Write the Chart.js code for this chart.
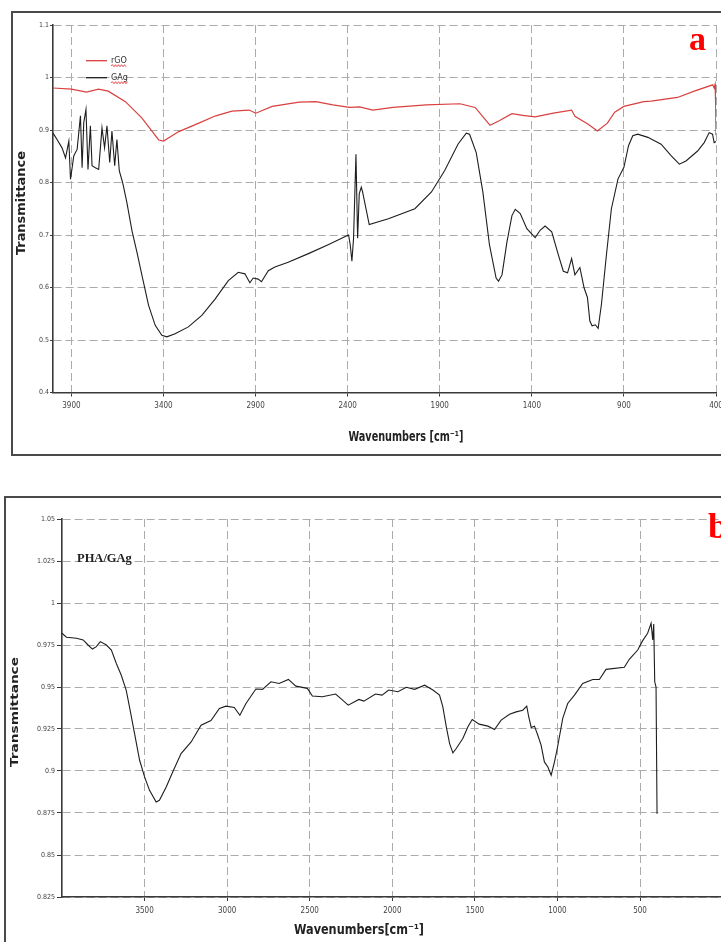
<!DOCTYPE html>
<html>
<head>
<meta charset="utf-8">
<script src="https://cdn.jsdelivr.net/npm/chart.js@4.4.1/dist/chart.umd.min.js"></script>
<style>
html, body { margin: 0; padding: 0; background: #fff; width: 721px; height: 942px; overflow: hidden; position: relative; }
.frame { position: absolute; border: 2px solid #4a4a4a; box-sizing: border-box; }
#frameA { left: 11px; top: 11px; width: 780px; height: 445px; }
#frameB { left: 4px; top: 496px; width: 780px; height: 480px; }
canvas { position: absolute; }
#chartA { left: 14px; top: 14px; }
#chartB { left: 7px; top: 499px; }
</style>
</head>
<body>
<div class="frame" id="frameA"></div>
<div class="frame" id="frameB"></div>
<canvas id="chartA" width="740" height="438"></canvas>
<canvas id="chartB" width="740" height="441"></canvas>
<script>
// panel a: rGO and GAg
const topXTicks = [3900, 3400, 2900, 2400, 1900, 1400, 900, 400];
const topYTicks = [0.4, 0.5, 0.6, 0.7, 0.8, 0.9, 1.0, 1.1];

const rgoWave = [4000, 3900, 3818, 3753, 3700, 3607, 3518, 3426, 3400, 3317, 3208, 3117, 3028, 2935, 2899, 2810, 2663, 2572, 2481, 2390,
    2335, 2263, 2154, 1972, 1790, 1708, 1665, 1627, 1580, 1508, 1450, 1382, 1283, 1184, 1166, 1094, 1044, 990, 950, 900,
    792, 752, 609, 518, 418, 410, 405, 402, 400];
const rgoT = [0.980, 0.978, 0.972, 0.978, 0.974, 0.954, 0.923, 0.881, 0.879, 0.897, 0.913, 0.927, 0.936, 0.938, 0.932, 0.945, 0.953, 0.954, 0.948, 0.943,
    0.944, 0.938, 0.943, 0.948, 0.950, 0.943, 0.925, 0.909, 0.917, 0.931, 0.928, 0.925, 0.932, 0.938, 0.926, 0.911, 0.898, 0.913, 0.934, 0.945,
    0.954, 0.955, 0.962, 0.974, 0.986, 0.980, 0.987, 0.950, 0.890];

const gagWave = [4000, 3978, 3951, 3932, 3914, 3905, 3887, 3869, 3851, 3842, 3833, 3821, 3810, 3797, 3788, 3770, 3752, 3734, 3720, 3707,
    3692, 3680, 3665, 3653, 3640, 3622, 3599, 3571, 3544, 3517, 3481, 3445, 3409, 3382, 3337, 3265, 3192, 3120, 3048, 2994,
    2958, 2931, 2913, 2886, 2868, 2831, 2795, 2723, 2610, 2503, 2413, 2395, 2386, 2377, 2368, 2355, 2346, 2337, 2326, 2319,
    2283, 2179, 2035, 1945, 1873, 1801, 1756, 1738, 1702, 1666, 1630, 1594, 1581, 1562, 1535, 1508, 1490, 1463, 1427, 1382,
    1355, 1328, 1292, 1256, 1229, 1206, 1184, 1166, 1139, 1116, 1098, 1085, 1073, 1055, 1040, 1022, 995, 968, 932, 900,
    875, 852, 825, 770, 698, 644, 599, 563, 500, 464, 437, 419, 410, 400];
const gagT = [0.894, 0.882, 0.866, 0.847, 0.879, 0.806, 0.851, 0.863, 0.927, 0.828, 0.914, 0.939, 0.825, 0.908, 0.832, 0.828, 0.825, 0.904, 0.866, 0.908,
    0.838, 0.898, 0.832, 0.882, 0.822, 0.800, 0.762, 0.708, 0.667, 0.623, 0.566, 0.528, 0.509, 0.506, 0.512, 0.525, 0.547, 0.578, 0.613, 0.629,
    0.626, 0.609, 0.618, 0.616, 0.611, 0.632, 0.639, 0.648, 0.665, 0.682, 0.697, 0.700, 0.681, 0.650, 0.694, 0.854, 0.694, 0.779, 0.791, 0.782,
    0.720, 0.731, 0.750, 0.782, 0.823, 0.873, 0.894, 0.892, 0.857, 0.782, 0.681, 0.618, 0.612, 0.624, 0.687, 0.737, 0.749, 0.741, 0.712, 0.695,
    0.709, 0.717, 0.706, 0.662, 0.631, 0.628, 0.655, 0.624, 0.638, 0.599, 0.581, 0.536, 0.527, 0.529, 0.522, 0.568, 0.662, 0.750, 0.807, 0.829,
    0.870, 0.889, 0.892, 0.886, 0.873, 0.851, 0.835, 0.841, 0.860, 0.876, 0.895, 0.892, 0.876, 0.878];

// panel b: PHA/GAg
const bottomXTicks = [3500, 3000, 2500, 2000, 1500, 1000, 500];
const bottomYTicks = [0.825, 0.85, 0.875, 0.9, 0.925, 0.95, 0.975, 1.0, 1.025, 1.05];

const phaWave = [4000, 3973, 3912, 3872, 3842, 3816, 3792, 3768, 3731, 3701, 3671, 3641, 3611, 3587, 3560, 3530, 3500, 3470, 3430, 3410,
    3369, 3329, 3279, 3218, 3158, 3098, 3047, 3007, 2957, 2923, 2886, 2826, 2786, 2735, 2685, 2629, 2584, 2514, 2484, 2424,
    2343, 2313, 2267, 2202, 2172, 2102, 2062, 2022, 1966, 1915, 1865, 1804, 1754, 1714, 1694, 1673, 1653, 1633, 1613, 1573,
    1542, 1516, 1474, 1421, 1381, 1341, 1290, 1250, 1210, 1186, 1174, 1159, 1139, 1119, 1099, 1079, 1058, 1038, 1018, 1001,
    968, 938, 897, 847, 786, 746, 706, 595, 565, 514, 484, 454, 433, 423, 417, 411, 403, 397];
const phaT = [0.982, 0.9796, 0.979, 0.978, 0.975, 0.9726, 0.974, 0.977, 0.975, 0.972, 0.964, 0.957, 0.948, 0.936, 0.922, 0.9064, 0.8965, 0.8885, 0.8816, 0.8826,
    0.8905, 0.8995, 0.9104, 0.9173, 0.9273, 0.930, 0.9372, 0.9386, 0.9378, 0.9332, 0.9402, 0.9488, 0.9486, 0.9531, 0.9521, 0.9545, 0.9505, 0.9492, 0.9446, 0.9442,
    0.9458, 0.9432, 0.9392, 0.9426, 0.9416, 0.9458, 0.9452, 0.9482, 0.9472, 0.9498, 0.9486, 0.9511, 0.9482, 0.9452, 0.9382, 0.9263, 0.9163, 0.9108, 0.9134, 0.9193,
    0.9263, 0.9307, 0.9279, 0.9267, 0.9247, 0.9303, 0.9338, 0.9352, 0.9362, 0.9386, 0.9323, 0.9259, 0.9267, 0.9213, 0.9154, 0.9054, 0.9024, 0.8975, 0.9054, 0.9134,
    0.9313, 0.9402, 0.9452, 0.9521, 0.9545, 0.9545, 0.9605, 0.9617, 0.9665, 0.972, 0.9776, 0.982, 0.9879, 0.978, 0.9875, 0.9531, 0.950, 0.8746];

const narrow = "'Liberation Sans Narrow', 'DejaVu Sans Condensed', Roboto, sans-serif";
const gridGrey = '#ababab';
const axisDark = '#3a3a3a';

function toPoints(xs, ys) {
    return xs.map(function(x, i) { return { x: x, y: ys[i] }; });
}

function fixedTicks(list) {
    return function(scale) {
        scale.ticks = list.map(function(v) { return { value: v }; });
    };
}

function tickLabel(v) {
    return String(parseFloat(Number(v).toFixed(3)));
}

// text squeezed or stretched along its own direction to a given width
function fitText(ctx, text, font, cx, cy, width, rotate) {
    ctx.save();
    ctx.font = font;
    ctx.fillStyle = '#222';
    ctx.textAlign = 'center';
    ctx.textBaseline = 'middle';
    const w = ctx.measureText(text).width;
    ctx.translate(cx, cy);
    if (rotate) ctx.rotate(-Math.PI / 2);
    ctx.scale(width / w, 1);
    ctx.fillText(text, 0, 0);
    ctx.restore();
}

function squiggle(ctx, x0, x1, y) {
    ctx.save();
    ctx.strokeStyle = '#e02020';
    ctx.lineWidth = 0.8;
    ctx.beginPath();
    ctx.moveTo(x0, y);
    let up = true;
    for (let x = x0 + 1.5; x <= x1; x += 1.5) {
        ctx.lineTo(x, up ? y - 1 : y + 1);
        up = !up;
    }
    ctx.stroke();
    ctx.restore();
}

const panelALabels = {
    id: 'panelALabels',
    afterDraw: function(chart) {
        const ctx = chart.ctx;
        ctx.save();
        const rows = [['rGO', chart.data.datasets[0].borderColor, 46.7], ['GAg', chart.data.datasets[1].borderColor, 63.7]];
        ctx.font = '9px ' + narrow;
        ctx.textBaseline = 'middle';
        rows.forEach(function(r) {
            ctx.strokeStyle = r[1];
            ctx.lineWidth = 1.3;
            ctx.beginPath();
            ctx.moveTo(72, r[2]);
            ctx.lineTo(93, r[2]);
            ctx.stroke();
            ctx.fillStyle = '#333';
            ctx.fillText(r[0], 97, r[2]);
            const w = ctx.measureText(r[0]).width;
            squiggle(ctx, 97, 97 + w, r[2] + 5);
        });
        ctx.fillStyle = '#ff0000';
        ctx.font = 'bold 34px "Liberation Serif", serif';
        ctx.textBaseline = 'alphabetic';
        ctx.fillText('a', 675, 36);
        ctx.restore();
        fitText(ctx, 'Wavenumbers [cm\u207B\u00B9]', 'bold 14px ' + narrow, 392, 423, 115, false);
        fitText(ctx, 'Transmittance', 'bold 13px ' + narrow, 8, 189, 104, true);
    }
};

const panelBLabels = {
    id: 'panelBLabels',
    afterDraw: function(chart) {
        const ctx = chart.ctx;
        ctx.save();
        ctx.fillStyle = '#222';
        ctx.font = 'bold 12.5px "Liberation Serif", serif';
        ctx.fillText('PHA/GAg', 70, 63);
        ctx.fillStyle = '#ff0000';
        ctx.font = 'bold 36px "Liberation Serif", serif';
        ctx.fillText('b', 701, 39);
        ctx.restore();
        fitText(ctx, 'Wavenumbers[cm\u207B\u00B9]', "bold 13.5px 'DejaVu Sans', sans-serif", 352, 431, 130, false);
        fitText(ctx, 'Transmittance', "bold 11px 'DejaVu Sans', sans-serif", 8, 213, 110, true);
    }
};

new Chart(document.getElementById('chartA'), {
    type: 'line',
    data: {
        datasets: [{
            label: 'rGO',
            data: toPoints(rgoWave, rgoT),
            borderColor: '#d9403f',
            borderWidth: 1.2,
            pointRadius: 0,
            tension: 0
        }, {
            label: 'GAg',
            data: toPoints(gagWave, gagT),
            borderColor: '#1e1e1e',
            borderWidth: 1.1,
            pointRadius: 0,
            tension: 0
        }]
    },
    options: {
        responsive: false,
        animation: false,
        layout: { padding: { top: 11, right: 38, left: 0, bottom: 0 } },
        plugins: { legend: { display: false }, tooltip: { enabled: false } },
        scales: {
            x: {
                type: 'linear',
                reverse: true,
                min: 400,
                max: 4000,
                afterBuildTicks: fixedTicks(topXTicks),
                afterFit: function(scale) { scale.height = 59.5; },
                ticks: { font: { family: narrow, size: 8 }, color: '#444', padding: 5, maxRotation: 0, callback: tickLabel },
                grid: { color: gridGrey, lineWidth: 1, tickLength: 4, tickColor: axisDark, tickWidth: 1 },
                border: { display: true, color: axisDark, width: 1.6, dash: [8, 4] },
                title: { display: false }
            },
            y: {
                min: 0.4,
                max: 1.1,
                afterBuildTicks: fixedTicks(topYTicks),
                afterFit: function(scale) { scale.width = 39; },
                ticks: { font: { family: narrow, size: 7 }, color: '#444', padding: 1, callback: tickLabel },
                grid: { color: gridGrey, lineWidth: 1, tickLength: 3, tickColor: axisDark, tickWidth: 1 },
                border: { display: true, color: axisDark, width: 1.6, dash: [8, 4] },
                title: { display: false }
            }
        }
    },
    plugins: [panelALabels]
});

new Chart(document.getElementById('chartB'), {
    type: 'line',
    data: {
        datasets: [{
            label: 'PHA/GAg',
            data: toPoints(phaWave, phaT),
            borderColor: '#1e1e1e',
            borderWidth: 1.1,
            pointRadius: 0,
            tension: 0
        }]
    },
    options: {
        responsive: false,
        animation: false,
        layout: { padding: { top: 20, right: 24.4, left: 0, bottom: 0 } },
        plugins: { legend: { display: false }, tooltip: { enabled: false } },
        scales: {
            x: {
                type: 'linear',
                reverse: true,
                min: 0,
                max: 4000,
                afterBuildTicks: fixedTicks(bottomXTicks),
                afterFit: function(scale) { scale.height = 43; },
                ticks: { font: { family: narrow, size: 8 }, color: '#444', padding: 5, maxRotation: 0, callback: tickLabel },
                grid: { color: gridGrey, lineWidth: 1, tickLength: 4, tickColor: axisDark, tickWidth: 1 },
                border: { display: true, color: axisDark, width: 1.6, dash: [8, 4] },
                title: { display: false }
            },
            y: {
                min: 0.825,
                max: 1.05,
                afterBuildTicks: fixedTicks(bottomYTicks),
                afterFit: function(scale) { scale.width = 55; },
                ticks: { font: { family: narrow, size: 7 }, color: '#444', padding: 2, callback: tickLabel },
                grid: { color: gridGrey, lineWidth: 1, tickLength: 5, tickColor: axisDark, tickWidth: 1 },
                border: { display: true, color: axisDark, width: 1.6, dash: [8, 4] },
                title: { display: false }
            }
        }
    },
    plugins: [panelBLabels]
});
</script>
</body>
</html>
